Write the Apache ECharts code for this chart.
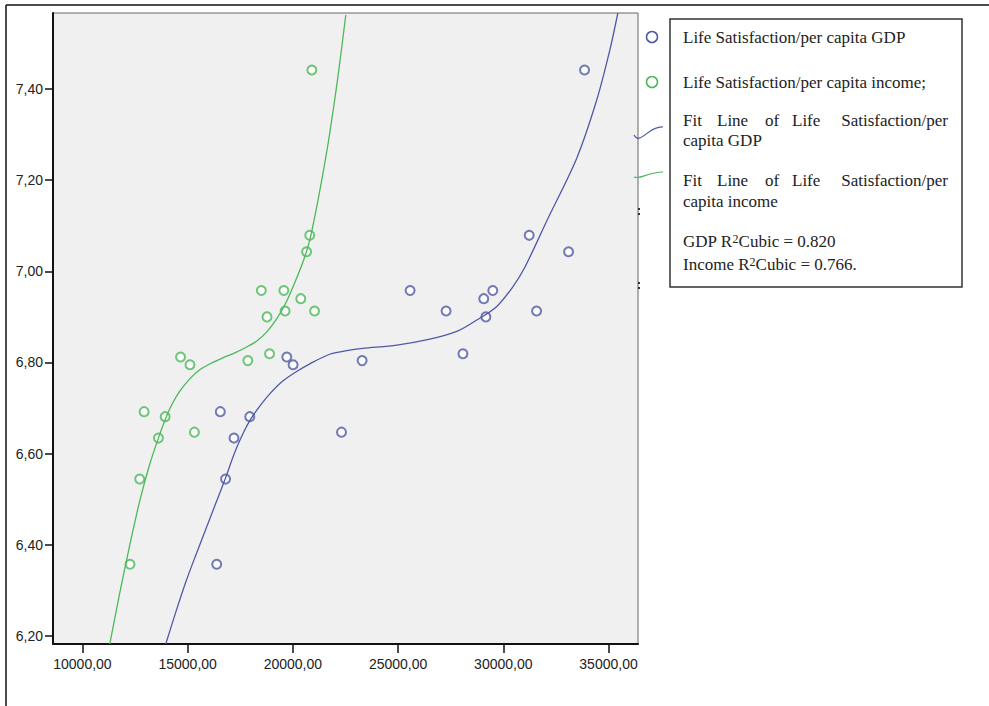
<!DOCTYPE html>
<html>
<head>
<meta charset="utf-8">
<script src="https://cdn.jsdelivr.net/npm/echarts@6/dist/echarts.min.js"></script>
<style>
  html, body { margin: 0; padding: 0; background: #fff; }
  #chart { width: 989px; height: 706px; }
</style>
</head>
<body>
<div id="chart"></div>
<script>
// Life satisfaction (y) shared by both scatter series
var lifeSat = [7.442, 7.079, 7.043, 6.958, 6.958, 6.940, 6.913, 6.913, 6.900, 6.819,
               6.812, 6.804, 6.795, 6.692, 6.681, 6.647, 6.634, 6.544, 6.357];
// per capita GDP (x) for each life satisfaction value
var gdp = [33860, 31230, 33100, 25570, 29500, 29070, 27280, 31580, 29170, 28080,
           19710, 23290, 20010, 16550, 17950, 22310, 17200, 16800, 16380];
// per capita income (x)
var income = [20900, 20800, 20650, 18500, 19570, 20375, 21030, 19630, 18770, 18890,
              14660, 17860, 15110, 12930, 13930, 15320, 13610, 12720, 12260];

// cubic fit lines
var gdpFitX = [13959, 14435, 14910, 15385, 15860, 16336, 16764, 17239, 17619, 17999, 18427,
               18902, 19520, 20138, 20804, 21754, 22705, 23323, 24939, 26507, 27790, 28741,
               29692, 30452, 31023, 32068, 33494, 34445, 35063, 35443];
var gdpFitY = [6.182, 6.252, 6.318, 6.377, 6.434, 6.491, 6.542, 6.603, 6.643, 6.676, 6.704,
               6.731, 6.759, 6.779, 6.797, 6.818, 6.827, 6.831, 6.838, 6.851, 6.868, 6.893,
               6.923, 6.966, 7.009, 7.111, 7.249, 7.377, 7.486, 7.567];
var incFitX = [11298, 11773, 12248, 12723, 13199, 13579, 13912, 14244, 14625, 15100, 15575,
               16146, 16668, 17239, 17809, 18285, 18760, 19235, 19710, 20186, 20566, 20804,
               21041, 21279, 21517, 21754, 22135, 22515];
var incFitY = [6.182, 6.294, 6.399, 6.496, 6.577, 6.630, 6.672, 6.707, 6.737, 6.764, 6.784,
               6.799, 6.810, 6.821, 6.834, 6.847, 6.867, 6.896, 6.935, 6.986, 7.032, 7.069,
               7.120, 7.177, 7.238, 7.304, 7.425, 7.563];

var xTicks = [10000, 15000, 20000, 25000, 30000, 35000];
var yTicks = [6.2, 6.4, 6.6, 6.8, 7.0, 7.2, 7.4];

var blue = '#4f5aa6';
var green = '#4cb858';
var ink = '#222';

function zip(xs, ys) {
  return xs.map(function(x, i) { return [x, ys[i]]; });
}
function comma(v) { return v.toFixed(2).replace('.', ','); }

var chart = echarts.init(document.getElementById('chart'), null, { renderer: 'svg' });

var serif = 'Liberation Serif';
var supStyle = { sup: { fontFamily: serif, fontSize: 12, fill: ink, verticalAlign: 'top' } };
function txt(x, y, s, extra) {
  var st = { x: x, y: y, text: s, fontFamily: serif, fontSize: 17, fill: ink, verticalAlign: 'middle' };
  if (extra) for (var k in extra) st[k] = extra[k];
  return { type: 'text', z: 20, style: st };
}

var graphics = [
  // outer frame (top + left only)
  { type: 'line', shape: { x1: 6, y1: 5, x2: 989, y2: 5 }, style: { stroke: '#111', lineWidth: 1.5 } },
  { type: 'line', shape: { x1: 6, y1: 5, x2: 6, y2: 706 }, style: { stroke: '#111', lineWidth: 1.5 } },
  // little marks just right of the plot
  { type: 'line', shape: { x1: 639, y1: 208, x2: 639, y2: 217 }, style: { stroke: '#333', lineWidth: 2, lineDash: [2, 3] } },
  { type: 'line', shape: { x1: 639, y1: 282, x2: 639, y2: 291 }, style: { stroke: '#333', lineWidth: 2, lineDash: [2, 3] } },
  // legend box
  { type: 'rect', z: 10, shape: { x: 670, y: 19, width: 292, height: 268 },
    style: { fill: '#fff', stroke: '#333', lineWidth: 1.5 } },
  { type: 'circle', z: 20, shape: { cx: 652, cy: 37, r: 5.5 }, style: { fill: 'none', stroke: blue, lineWidth: 1.5 } },
  { type: 'circle', z: 20, shape: { cx: 652, cy: 82, r: 5.5 }, style: { fill: 'none', stroke: green, lineWidth: 1.5 } },
  { type: 'bezierCurve', z: 20, shape: { x1: 634, y1: 135, cpx1: 640, cpy1: 146, cpx2: 648, cpy2: 126, x2: 663, y2: 127 },
    style: { fill: 'none', stroke: blue, lineWidth: 1.2 } },
  { type: 'bezierCurve', z: 20, shape: { x1: 634, y1: 177, cpx1: 640, cpy1: 180, cpx2: 648, cpy2: 172, x2: 663, y2: 172 },
    style: { fill: 'none', stroke: green, lineWidth: 1.2 } },
  txt(683, 37, 'Life Satisfaction/per capita GDP'),
  txt(683, 82, 'Life Satisfaction/per capita income;'),
  txt(683, 120, 'Fit'), txt(717, 120, 'Line'), txt(765, 120, 'of'), txt(792, 120, 'Life'),
  txt(948, 120, 'Satisfaction/per', { align: 'right' }),
  txt(683, 140, 'capita GDP'),
  txt(683, 180, 'Fit'), txt(717, 180, 'Line'), txt(765, 180, 'of'), txt(792, 180, 'Life'),
  txt(948, 180, 'Satisfaction/per', { align: 'right' }),
  txt(683, 201, 'capita income'),
  txt(683, 241, 'GDP R{sup|2}Cubic = 0.820', { rich: supStyle }),
  txt(683, 264, 'Income R{sup|2}Cubic = 0.766.', { rich: supStyle })
];

chart.setOption({
  animation: false,
  backgroundColor: '#fff',
  grid: {
    left: 53, top: 13, right: 351, bottom: 62,
    show: true, backgroundColor: '#f0f0f0', borderColor: '#666', borderWidth: 1
  },
  xAxis: {
    type: 'value',
    min: 8600, max: 36400,
    axisLine: { show: true, lineStyle: { color: '#111', width: 2 } },
    axisTick: { show: true, length: 9, customValues: xTicks, lineStyle: { color: '#111', width: 1.5 } },
    axisLabel: { customValues: xTicks, margin: 13, color: ink, fontFamily: 'Liberation Sans', fontSize: 14,
                 formatter: comma },
    splitLine: { show: false }
  },
  yAxis: {
    type: 'value',
    min: 6.182, max: 7.567,
    axisLine: { show: true, lineStyle: { color: '#111', width: 2 } },
    axisTick: { show: true, length: 8, customValues: yTicks, lineStyle: { color: '#111', width: 1.5 } },
    axisLabel: { customValues: yTicks, margin: 10, color: ink, fontFamily: 'Liberation Sans', fontSize: 14,
                 formatter: comma },
    splitLine: { show: false }
  },
  series: [
    {
      name: 'Life Satisfaction/per capita GDP',
      type: 'scatter',
      data: zip(gdp, lifeSat),
      symbol: 'emptyCircle', symbolSize: 9,
      itemStyle: { color: blue, borderColor: blue, borderWidth: 1.5 }
    },
    {
      name: 'Life Satisfaction/per capita income',
      type: 'scatter',
      data: zip(income, lifeSat),
      symbol: 'emptyCircle', symbolSize: 9,
      itemStyle: { color: green, borderColor: green, borderWidth: 1.5 }
    },
    {
      name: 'Fit Line of Life Satisfaction/per capita GDP',
      type: 'line', smooth: 0.3, showSymbol: false, clip: true,
      data: zip(gdpFitX, gdpFitY),
      lineStyle: { color: blue, width: 1.3 }
    },
    {
      name: 'Fit Line of Life Satisfaction/per capita income',
      type: 'line', smooth: 0.3, showSymbol: false, clip: true,
      data: zip(incFitX, incFitY),
      lineStyle: { color: green, width: 1.3 }
    }
  ],
  graphic: graphics
});
</script>
</body>
</html>
